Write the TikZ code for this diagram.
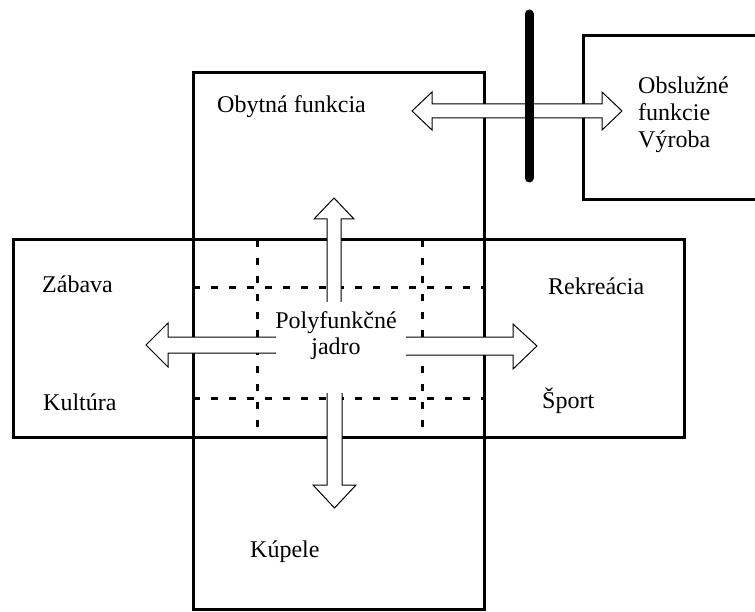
\documentclass[tikz,border=0pt]{standalone}
\usepackage{fontspec}
\setmainfont{Liberation Serif}

\begin{document}
\begin{tikzpicture}[x=1pt, y=-1pt,
  zoneline/.style={draw, line width=3pt},
  coreline/.style={draw, line width=3pt, dash pattern=on 7pt off 11pt},
  blockarrow/.style={draw, fill=white, line width=1pt, line join=miter},
  areatext/.style={inner sep=0pt, anchor=base west, font=\fontsize{24}{27}\selectfont}]
\useasboundingbox (0,0) rectangle (755,612);
% two crossing zones and the outer box
\draw[zoneline] (193,73) rectangle (484,609);
\draw[zoneline] (13,240) rectangle (684,437);
\draw[zoneline] (755,36) -- (583,36) -- (583,200) -- (755,200);
% core grid
\foreach \x in {257,422} \draw[coreline] (\x,240) -- (\x,437);
\foreach \y in {288,398} \draw[coreline] (193,\y) -- (484,\y);
% block arrows (open tails)
\draw[blockarrow] (327,302) -- (327,219) -- (314,219) -- (334,198) -- (354,219) -- (341,219) -- (341,302);
\draw[blockarrow] (327,393) -- (327,485) -- (313,485) -- (334.5,508) -- (356,485) -- (342,485) -- (342,393);
\draw[blockarrow] (276,337) -- (168,337) -- (168,323) -- (146,345) -- (168,367) -- (168,353) -- (276,353);
\draw[blockarrow] (406,337) -- (513,337) -- (513,324) -- (537,346) -- (513,369) -- (513,355) -- (406,355);
\draw[blockarrow] (412,111) -- (432,92) -- (432,104) -- (602,104) -- (602,92) -- (622,111)
  -- (602,130) -- (602,118) -- (432,118) -- (432,130) -- cycle;
% barrier
\draw[line width=9pt, line cap=round] (529,14) -- (529,178);
% texts
\node[areatext] (obyt) at (217,113) {Obytná funkcia};
\node[areatext, align=left] (obsl) at (638,148) {Obslužné\\funkcie\\Výroba};
\node[areatext] (zab) at (42,293) {Zábava};
\node[areatext] (kult) at (43,410) {Kultúra};
\node[areatext] (rekr) at (548,295) {Rekreácia};
\node[areatext] (sport) at (542,408) {Šport};
\node[areatext] (kup) at (250,557) {Kúpele};
\node[areatext, anchor=base, align=center] (jadro) at (336,355) {Polyfunkčné\\jadro};
\end{tikzpicture}
\end{document}
